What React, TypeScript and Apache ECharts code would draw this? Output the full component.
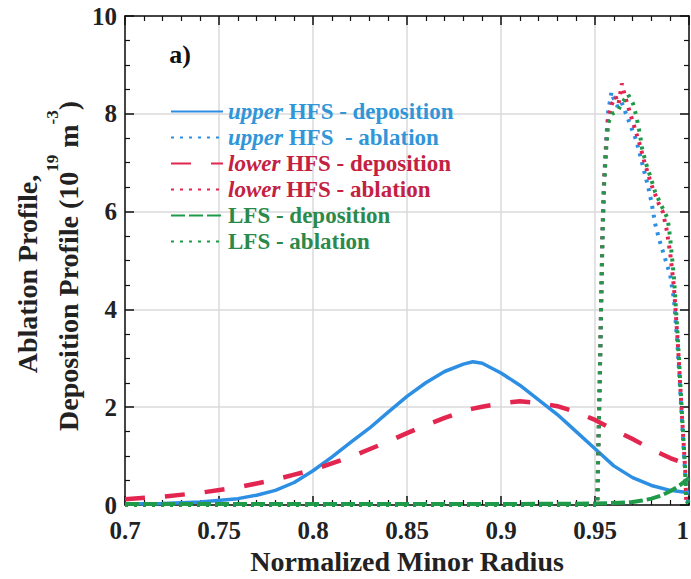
import { useEffect, useRef } from "react";
import * as echarts from "echarts";

const FONT = '"Liberation Serif", "Times New Roman", serif';

// Deposition profiles sampled on a common radius grid
const depX = [
  0.7, 0.72, 0.74, 0.76, 0.77, 0.78, 0.79, 0.8, 0.81, 0.82, 0.83, 0.84, 0.85, 0.86, 0.87,
  0.88, 0.885, 0.89, 0.9, 0.91, 0.92, 0.93, 0.94, 0.95, 0.96, 0.97, 0.98, 0.99, 1.0,
];
const upperDeposition = [
  0.02, 0.03, 0.06, 0.13, 0.2, 0.3, 0.46, 0.7, 0.98, 1.28, 1.57, 1.9, 2.22, 2.5, 2.73,
  2.88, 2.93, 2.9, 2.7, 2.45, 2.15, 1.85, 1.5, 1.15, 0.8, 0.56, 0.4, 0.3, 0.25,
];
const lowerDeposition = [
  0.12, 0.17, 0.25, 0.36, 0.44, 0.52, 0.62, 0.72, 0.85, 0.98, 1.14, 1.3, 1.47, 1.63, 1.78,
  1.92, 1.97, 2.01, 2.08, 2.12, 2.09, 2.02, 1.9, 1.74, 1.54, 1.35, 1.14, 0.96, 0.82,
];
const lfsDepX = [0.7, 0.8, 0.9, 0.95, 0.96, 0.97, 0.975, 0.98, 0.985, 0.99, 0.995, 1.0];
const lfsDeposition = [0.02, 0.02, 0.02, 0.03, 0.04, 0.06, 0.09, 0.13, 0.19, 0.28, 0.4, 0.55];

// Ablation profiles as [radius, value] pairs
const upperAblation: [number, number][] = [
  [0.7, 0], [0.9512, 0], [0.9518, 1.2], [0.9525, 2.5], [0.9533, 4.2], [0.954, 5.6],
  [0.9548, 6.6], [0.956, 7.5], [0.957, 8.05], [0.9588, 8.45], [0.96, 8.3], [0.962, 8.15],
  [0.964, 8.25], [0.966, 8.05], [0.968, 7.85], [0.97, 7.65], [0.972, 7.45], [0.974, 7.15],
  [0.976, 6.85], [0.978, 6.55], [0.98, 6.2], [0.982, 5.75], [0.984, 5.45], [0.986, 5.2],
  [0.988, 4.95], [0.99, 4.7], [0.992, 4.2], [0.994, 3.2], [0.996, 1.9], [0.998, 0.6],
  [0.999, 0.15], [1.0, 0],
];
const lowerAblation: [number, number][] = [
  [0.7, 0], [0.9512, 0], [0.9518, 1.2], [0.9525, 2.5], [0.9533, 4.2], [0.954, 5.6],
  [0.9548, 6.6], [0.956, 7.4], [0.957, 7.9], [0.959, 8.2], [0.961, 8.35], [0.9625, 8.2],
  [0.9643, 8.62], [0.966, 8.35], [0.968, 8.1], [0.97, 7.85], [0.972, 7.6], [0.974, 7.35],
  [0.976, 7.05], [0.978, 6.8], [0.98, 6.55], [0.982, 6.35], [0.984, 6.15], [0.986, 6.0],
  [0.988, 5.65], [0.99, 5.15], [0.992, 4.45], [0.994, 3.35], [0.996, 2.0], [0.998, 0.7],
  [0.9985, 0.1], [1.0, 0],
];
const lfsAblation: [number, number][] = [
  [0.7, 0], [0.9512, 0], [0.9518, 1.2], [0.9525, 2.5], [0.9533, 4.1], [0.954, 5.5],
  [0.9548, 6.5], [0.956, 7.3], [0.957, 7.8], [0.959, 8.0], [0.962, 8.05], [0.964, 8.2],
  [0.9675, 8.4], [0.9703, 8.2], [0.972, 7.95], [0.9738, 7.6], [0.975, 7.3], [0.977, 7.0],
  [0.98, 6.65], [0.982, 6.4], [0.985, 6.15], [0.9887, 5.85], [0.99, 5.45], [0.992, 4.65],
  [0.994, 3.45], [0.996, 2.05], [0.998, 0.7], [0.9985, 0.1], [1.0, 0],
];

const seriesNames = [
  "upper HFS - deposition",
  "upper HFS  - ablation",
  "lower HFS - deposition",
  "lower HFS - ablation",
  "LFS - deposition",
  "LFS - ablation",
];

const BLUE = "#2d8fe3";
const RED = "#e2264f";
const GREEN = "#1e9a48";
const BLUE_TEXT = "#3196d8";
const RED_TEXT = "#c42142";
const GREEN_TEXT = "#2b8a4b";

const DOTTED = [3, 6];
const RED_DASH = [20, 20];
const GREEN_DASH = [14, 4];

function zip(xs: number[], ys: number[]) {
  return xs.map((x, i) => [x, ys[i]]);
}

function lineSeries(name: string, data: any[], color: string, width: number, type: any, z: number) {
  return {
    type: "line",
    name,
    data,
    symbol: "none",
    clip: false,
    z,
    lineStyle: { color, width, type },
    itemStyle: { color },
    emphasis: { disabled: true },
  };
}

const axisLineStyle = { color: "#111", width: 1.5 };

export default function App() {
  const ref = useRef<HTMLDivElement>(null);

  useEffect(() => {
    if (!ref.current) return;
    const chart = echarts.init(ref.current, null, { renderer: "svg" });

    const tickFmt = (v: number) => String(+v.toFixed(2));

    const option: any = {
      animation: false,
      backgroundColor: "#ffffff",
      grid: {
        left: 125,
        right: 2,
        top: 16,
        bottom: 74,
        containLabel: false,
        outerBoundsMode: "none",
      },
      xAxis: [
        {
          type: "value",
          min: 0.7,
          max: 1,
          interval: 0.05,
          position: "bottom",
          axisLine: { show: true, onZero: false, lineStyle: axisLineStyle },
          axisTick: { show: true, inside: true, length: 9, lineStyle: axisLineStyle },
          minorTick: { show: true, splitNumber: 5, length: 5, lineStyle: { color: "#111", width: 1.2 } },
          splitLine: { show: true, lineStyle: { color: "#dadada", width: 1.5 } },
          axisLabel: {
            color: "#222",
            fontFamily: FONT,
            fontWeight: "bold",
            fontSize: 25,
            margin: 13,
            alignMaxLabel: "right",
            formatter: tickFmt,
          },
          name: "Normalized Minor Radius",
          nameLocation: "middle",
          nameGap: 40,
          nameTextStyle: { color: "#222", fontFamily: FONT, fontWeight: "bold", fontSize: 28 },
        },
        {
          type: "value",
          min: 0.7,
          max: 1,
          interval: 0.05,
          position: "top",
          axisLine: { show: true, onZero: false, lineStyle: axisLineStyle },
          axisTick: { show: true, inside: true, length: 9, lineStyle: axisLineStyle },
          minorTick: { show: true, splitNumber: 5, length: 5, lineStyle: { color: "#111", width: 1.2 } },
          splitLine: { show: false },
          axisLabel: { show: false },
        },
      ],
      yAxis: [
        {
          type: "value",
          min: 0,
          max: 10,
          interval: 2,
          position: "left",
          axisLine: { show: true, onZero: false, lineStyle: axisLineStyle },
          axisTick: { show: true, inside: true, length: 9, lineStyle: axisLineStyle },
          minorTick: { show: true, splitNumber: 4, length: 5, lineStyle: { color: "#111", width: 1.2 } },
          splitLine: { show: true, lineStyle: { color: "#dadada", width: 1.5 } },
          axisLabel: { color: "#222", fontFamily: FONT, fontWeight: "bold", fontSize: 25, margin: 8 },
        },
        {
          type: "value",
          min: 0,
          max: 10,
          interval: 2,
          position: "right",
          axisLine: { show: true, onZero: false, lineStyle: axisLineStyle },
          axisTick: { show: true, inside: true, length: 9, lineStyle: axisLineStyle },
          minorTick: { show: true, splitNumber: 4, length: 5, lineStyle: { color: "#111", width: 1.2 } },
          splitLine: { show: false },
          axisLabel: { show: false },
        },
      ],
      legend: {
        orient: "vertical",
        left: 170,
        top: 100,
        padding: 0,
        itemWidth: 52,
        itemHeight: 14,
        itemGap: 3,
        selectedMode: false,
        itemStyle: { opacity: 0 },
        data: [
          { name: seriesNames[0], textStyle: { color: BLUE_TEXT } },
          { name: seriesNames[1], textStyle: { color: BLUE_TEXT } },
          { name: seriesNames[2], textStyle: { color: RED_TEXT } },
          { name: seriesNames[3], textStyle: { color: RED_TEXT } },
          { name: seriesNames[4], textStyle: { color: GREEN_TEXT } },
          { name: seriesNames[5], textStyle: { color: GREEN_TEXT } },
        ],
        formatter: (name: string) => {
          const m = name.match(/^(upper|lower)(.*)$/);
          return m ? `{i|${m[1]}}${m[2]}` : name;
        },
        textStyle: {
          fontFamily: FONT,
          fontWeight: "bold",
          fontSize: 23,
          lineHeight: 20,
          rich: {
            i: { fontFamily: FONT, fontWeight: "bold", fontStyle: "italic", fontSize: 23, lineHeight: 20 },
          },
        },
      },
      graphic: [
        {
          type: "text",
          x: 27,
          y: 274,
          rotation: Math.PI / 2,
          style: {
            text: "Ablation Profile,",
            fill: "#222",
            fontFamily: FONT,
            fontWeight: "bold",
            fontSize: 28,
            align: "center",
            verticalAlign: "middle",
          },
        },
        {
          type: "text",
          x: 63,
          y: 266,
          rotation: Math.PI / 2,
          style: {
            text: "{n|Deposition Profile (10}{s|19}{n| m}{s|-3}{n|)}",
            fill: "#222",
            align: "center",
            verticalAlign: "middle",
            rich: {
              n: {
                fontFamily: FONT,
                fontWeight: "bold",
                fontSize: 28,
                lineHeight: 28,
                verticalAlign: "bottom",
              },
              s: {
                fontFamily: FONT,
                fontWeight: "bold",
                fontSize: 17,
                lineHeight: 38,
                verticalAlign: "top",
              },
            },
          },
        },
        {
          type: "text",
          x: 180,
          y: 54,
          style: {
            text: "a)",
            fill: "#111",
            fontFamily: FONT,
            fontWeight: "bold",
            fontSize: 26,
            align: "center",
            verticalAlign: "middle",
          },
        },
      ],
      series: [
        lineSeries(seriesNames[0], zip(depX, upperDeposition), BLUE, 3.5, "solid", 3),
        lineSeries(seriesNames[1], upperAblation, BLUE, 4, DOTTED, 4),
        lineSeries(seriesNames[2], zip(depX, lowerDeposition), RED, 4.5, RED_DASH, 5),
        lineSeries(seriesNames[3], lowerAblation, RED, 4, DOTTED, 6),
        lineSeries(seriesNames[4], zip(lfsDepX, lfsDeposition), GREEN, 4, GREEN_DASH, 7),
        lineSeries(seriesNames[5], lfsAblation, GREEN, 4, DOTTED, 8),
      ],
    };

    chart.setOption(option);
    return () => chart.dispose();
  }, []);

  return (
    <div
      ref={ref}
      style={{ position: "fixed", left: 0, top: 0, width: 691, height: 579, background: "#fff" }}
    />
  );
}
